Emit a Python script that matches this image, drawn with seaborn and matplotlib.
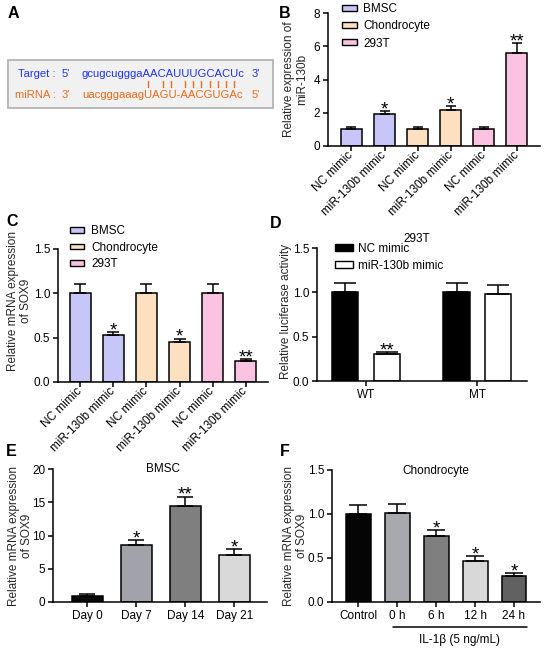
import numpy as np
import pandas as pd
import matplotlib
matplotlib.use("Agg")
import matplotlib.pyplot as plt
import seaborn as sns
from matplotlib.patches import Patch, Rectangle
from matplotlib.font_manager import FontProperties

# ---------------- data ----------------
b_groups = ["NC mimic", "miR-130b mimic", "NC mimic", "miR-130b mimic", "NC mimic", "miR-130b mimic"]
b_cells = ["BMSC", "BMSC", "Chondrocyte", "Chondrocyte", "293T", "293T"]
b_values = [1.0, 1.92, 1.0, 2.18, 1.0, 5.6]
b_errors = [0.12, 0.2, 0.12, 0.22, 0.12, 0.6]
b_stars = ["", "*", "", "*", "", "**"]

c_values = [1.0, 0.53, 1.0, 0.45, 1.0, 0.24]
c_errors = [0.1, 0.035, 0.1, 0.04, 0.1, 0.02]
c_stars = ["", "*", "", "*", "", "**"]

cell_names = ["BMSC", "Chondrocyte", "293T"]
cell_colors = ["#c6c6f8", "#fde0c0", "#fcc2e2"]

d_groups = ["WT", "WT", "MT", "MT"]
d_treat = ["NC mimic", "miR-130b mimic", "NC mimic", "miR-130b mimic"]
d_values = [1.0, 0.31, 1.0, 0.98]
d_errors = [0.1, 0.02, 0.1, 0.1]
d_stars = ["", "**", "", ""]
d_colors = ["#000000", "#ffffff"]

e_days = ["Day 0", "Day 7", "Day 14", "Day 21"]
e_values = [0.85, 8.55, 14.45, 7.1]
e_errors = [0.3, 0.7, 1.4, 0.8]
e_stars = ["", "*", "**", "*"]
e_colors = ["#0a0a0a", "#a2a2aa", "#7f7f7f", "#d9d9d9"]

f_times = ["Control", "0 h", "6 h", "12 h", "24 h"]
f_values = [1.0, 1.01, 0.75, 0.47, 0.30]
f_errors = [0.1, 0.1, 0.07, 0.05, 0.03]
f_stars = ["", "", "*", "*", "*"]
f_colors = ["#050505", "#a8a8b0", "#7f7f7f", "#d8d8d8", "#616161"]

target_seq = "gcugcugggaAACAUUUGCACUc"
mirna_seq = "uacgggaaagUAGU-AACGUGAc"

# ---------------- style ----------------
sns.set_theme(style="ticks")
plt.rcParams["font.family"] = ["Liberation Sans", "DejaVu Sans"]
FS = 8.5
LW = 1.1
plt.rcParams.update({
    "axes.linewidth": LW,
    "xtick.major.width": LW, "ytick.major.width": LW,
    "xtick.major.size": 3.5, "ytick.major.size": 3.5,
    "xtick.major.pad": 2, "ytick.major.pad": 2,
    "xtick.labelsize": FS, "ytick.labelsize": FS,
    "axes.labelsize": FS,
    "xtick.color": "black", "ytick.color": "black",
    "axes.edgecolor": "black", "text.color": "black",
})

W, H = 550, 649
fig = plt.figure(figsize=(W / 100, H / 100), dpi=100)


def add_ax(l, r, t, b):
    return fig.add_axes([l / W, 1 - b / H, (r - l) / W, (b - t) / H])


def finish(ax, errs, stars, capsize):
    pats = sorted(ax.patches, key=lambda p: p.get_x() + p.get_width() / 2)
    xs = [p.get_x() + p.get_width() / 2 for p in pats]
    tops = [p.get_height() for p in pats]
    ax.errorbar(xs, tops, yerr=[np.zeros(len(errs)), errs], fmt="none", ecolor="black",
                elinewidth=LW, capsize=capsize, capthick=LW, zorder=1)
    for x, t, e, s in zip(xs, tops, errs, stars):
        if s:
            ax.annotate(s, (x, t + e), xytext=(0, -2.4), textcoords="offset points",
                        ha="center", va="baseline", fontsize=13.5)
    sns.despine(ax=ax)
    ax.tick_params(direction="out")


# ---------------- background axes (panel A, labels) ----------------
bg = fig.add_axes([0, 0, 1, 1], zorder=-5)
bg.set_xlim(0, W)
bg.set_ylim(H, 0)
bg.axis("off")
bg.patch.set_alpha(0)

bg.add_patch(Rectangle((8, 60), 265, 48, facecolor="#f1f1f1", edgecolor="#b4b4b4", linewidth=1.3))
blue = "#2233ee"
orange = "#ee6a1a"
AFS = 8.1
bg.text(18, 74, "Target :", color=blue, fontsize=AFS, va="center")
bg.text(62, 74, "5'", color=blue, fontsize=AFS, va="center")
bg.text(82, 74, target_seq, color=blue, fontsize=AFS, va="center")
bg.text(252, 74, "3'", color=blue, fontsize=AFS, va="center")
bg.text(15, 95.5, "miRNA :", color=orange, fontsize=AFS, va="center")
bg.text(62, 95.5, "3'", color=orange, fontsize=AFS, va="center")
bg.text(82, 95.5, mirna_seq, color=orange, fontsize=AFS, va="center")
bg.text(252, 95.5, "5'", color=orange, fontsize=AFS, va="center")

renderer = fig.canvas.get_renderer()
fp = FontProperties(family=["Liberation Sans", "DejaVu Sans"], size=AFS)


def tw(s):
    if not s:
        return 0.0
    w, h, d = renderer.get_text_width_height_descent(s.replace(" ", "\u00a0"), fp, ismath=False)
    return w


comp = {"A": "U", "U": "A", "G": "C", "C": "G"}
for i, (a, b) in enumerate(zip(target_seq, mirna_seq)):
    if a.isupper() and b.isupper() and comp.get(a) == b:
        ct = 82 + (tw(target_seq[:i]) + tw(target_seq[:i + 1])) / 2
        cm = 82 + (tw(mirna_seq[:i]) + tw(mirna_seq[:i + 1])) / 2
        xc = (ct + cm) / 2
        bg.plot([xc, xc], [80.5, 87], color=orange, lw=1.0)

for lab, (x, y) in {"A": (13, 13), "B": (285, 13), "C": (12, 222), "D": (276, 223),
                    "E": (11, 451), "F": (285, 451)}.items():
    bg.text(x, y, lab, fontsize=11.5, fontweight="bold", ha="center", va="center")

# ---------------- panel B ----------------
axB = add_ax(328, 540, 13, 146)
dfb = pd.DataFrame({"key": [f"{c}|{g}" for c, g in zip(b_cells, b_groups)],
                    "value": b_values, "cell": b_cells})
sns.barplot(data=dfb, x="key", y="value", hue="cell", hue_order=cell_names,
            palette=cell_colors, dodge=False, width=0.64, saturation=1,
            edgecolor="black", linewidth=LW, errorbar=None, legend=False, ax=axB)
finish(axB, b_errors, b_stars, 3.6)
axB.set_ylim(0, 8)
axB.set_yticks([0, 2, 4, 6, 8])
axB.set_xlim(-0.71, 5.70)
axB.set_xticks(range(6))
axB.set_xticklabels(b_groups, rotation=45, ha="right", va="center", rotation_mode="anchor")
axB.set_xlabel("")
axB.set_ylabel("Relative expression of\nmiR-130b", linespacing=1.15)
axB.yaxis.set_label_coords(-0.095, 0.5)
cell_handles = [Patch(facecolor=c, edgecolor="black", linewidth=1.0, label=n)
                for n, c in zip(cell_names, cell_colors)]
axB.legend(handles=cell_handles, loc="upper left", bbox_to_anchor=(342 / W, 1 - 3 / H),
           bbox_transform=fig.transFigure, frameon=False, borderpad=0, borderaxespad=0,
           handlelength=1.3, handleheight=0.4, handletextpad=0.5, labelspacing=0.45, fontsize=FS)

# ---------------- panel C ----------------
axC = add_ax(58, 268, 249, 382)
dfc = pd.DataFrame({"key": [f"{c}|{g}" for c, g in zip(b_cells, b_groups)],
                    "value": c_values, "cell": b_cells})
sns.barplot(data=dfc, x="key", y="value", hue="cell", hue_order=cell_names,
            palette=cell_colors, dodge=False, width=0.64, saturation=1,
            edgecolor="black", linewidth=LW, errorbar=None, legend=False, ax=axC)
finish(axC, c_errors, c_stars, 4)
axC.set_ylim(0, 1.5)
axC.set_yticks([0, 0.5, 1.0, 1.5])
axC.set_yticklabels(["0.0", "0.5", "1.0", "1.5"])
axC.set_xlim(-0.68, 5.68)
axC.set_xticks(range(6))
axC.set_xticklabels(b_groups, rotation=45, ha="right", va="center", rotation_mode="anchor")
axC.set_xlabel("")
axC.set_ylabel("Relative mRNA expression\nof SOX9", linespacing=1.15)
axC.yaxis.set_label_coords(-0.124, 0.61)
axC.legend(handles=cell_handles, loc="upper left", bbox_to_anchor=(70 / W, 1 - 225 / H),
           bbox_transform=fig.transFigure, frameon=False, borderpad=0, borderaxespad=0,
           handlelength=1.2, handleheight=0.4, handletextpad=0.6, labelspacing=0.4, fontsize=FS)

# ---------------- panel D ----------------
axD = add_ax(317, 527, 248, 381)
dfd = pd.DataFrame({"group": d_groups, "treat": d_treat, "value": d_values})
sns.barplot(data=dfd, x="group", y="value", hue="treat", hue_order=["NC mimic", "miR-130b mimic"],
            palette=d_colors, width=0.75, gap=0.37, saturation=1,
            edgecolor="black", linewidth=LW, errorbar=None, legend=False, ax=axD)
finish(axD, d_errors, d_stars, 8)
axD.set_ylim(0, 1.5)
axD.set_yticks([0, 0.5, 1.0, 1.5])
axD.set_yticklabels(["0.0", "0.5", "1.0", "1.5"])
axD.set_xlim(-0.44, 1.445)
axD.set_xlabel("")
axD.set_ylabel("Relative luciferase activity")
axD.yaxis.set_label_coords(-0.119, 0.52)
axD.text(0.476, 1.07, "293T", transform=axD.transAxes, ha="center", va="center", fontsize=FS)
d_handles = [Patch(facecolor=c, edgecolor="black", linewidth=1.0, label=n)
             for n, c in zip(["NC mimic", "miR-130b mimic"], d_colors)]
axD.legend(handles=d_handles, loc="upper left", bbox_to_anchor=(335 / W, 1 - 243 / H),
           bbox_transform=fig.transFigure, frameon=False, borderpad=0, borderaxespad=0,
           handlelength=1.5, handleheight=0.55, handletextpad=0.45, labelspacing=0.4, fontsize=FS)

# ---------------- panel E ----------------
axE = add_ax(53, 267, 469, 602)
dfe = pd.DataFrame({"day": e_days, "value": e_values})
sns.barplot(data=dfe, x="day", y="value", hue="day", palette=e_colors, width=0.64,
            saturation=1, edgecolor="black", linewidth=LW, errorbar=None, legend=False, ax=axE)
finish(axE, e_errors, e_stars, 6)
axE.set_ylim(0, 20)
axE.set_yticks([0, 5, 10, 15, 20])
axE.set_xlim(-0.70, 3.67)
axE.set_xlabel("")
axE.set_ylabel("Relative mRNA expression\nof SOX9", linespacing=1.15)
axE.yaxis.set_label_coords(-0.093, 0.5)
axE.text(0.514, 1.0, "BMSC", transform=axE.transAxes, ha="center", va="center", fontsize=FS)

# ---------------- panel F ----------------
axF = add_ax(332, 540, 470, 602)
dff = pd.DataFrame({"time": f_times, "value": f_values})
sns.barplot(data=dff, x="time", y="value", hue="time", palette=f_colors, width=0.64,
            saturation=1, edgecolor="black", linewidth=LW, errorbar=None, legend=False, ax=axF)
finish(axF, f_errors, f_stars, 6.5)
axF.set_ylim(0, 1.5)
axF.set_yticks([0, 0.5, 1.0, 1.5])
axF.set_yticklabels(["0.0", "0.5", "1.0", "1.5"])
axF.set_xlim(-0.68, 4.67)
axF.set_xlabel("")
axF.set_ylabel("Relative mRNA expression\nof SOX9", linespacing=1.15)
axF.yaxis.set_label_coords(-0.115, 0.5)
axF.text(0.5, 0.995, "Chondrocyte", transform=axF.transAxes, ha="center", va="center", fontsize=FS)
axF.plot([0.293, 0.9375], [-0.189, -0.189], transform=axF.transAxes, color="black",
         lw=LW, clip_on=False)
axF.text(0.615, -0.29, "IL-1\u03b2 (5 ng/mL)", transform=axF.transAxes, ha="center",
         va="center", fontsize=FS)

fig.savefig("out.png", dpi=100)
